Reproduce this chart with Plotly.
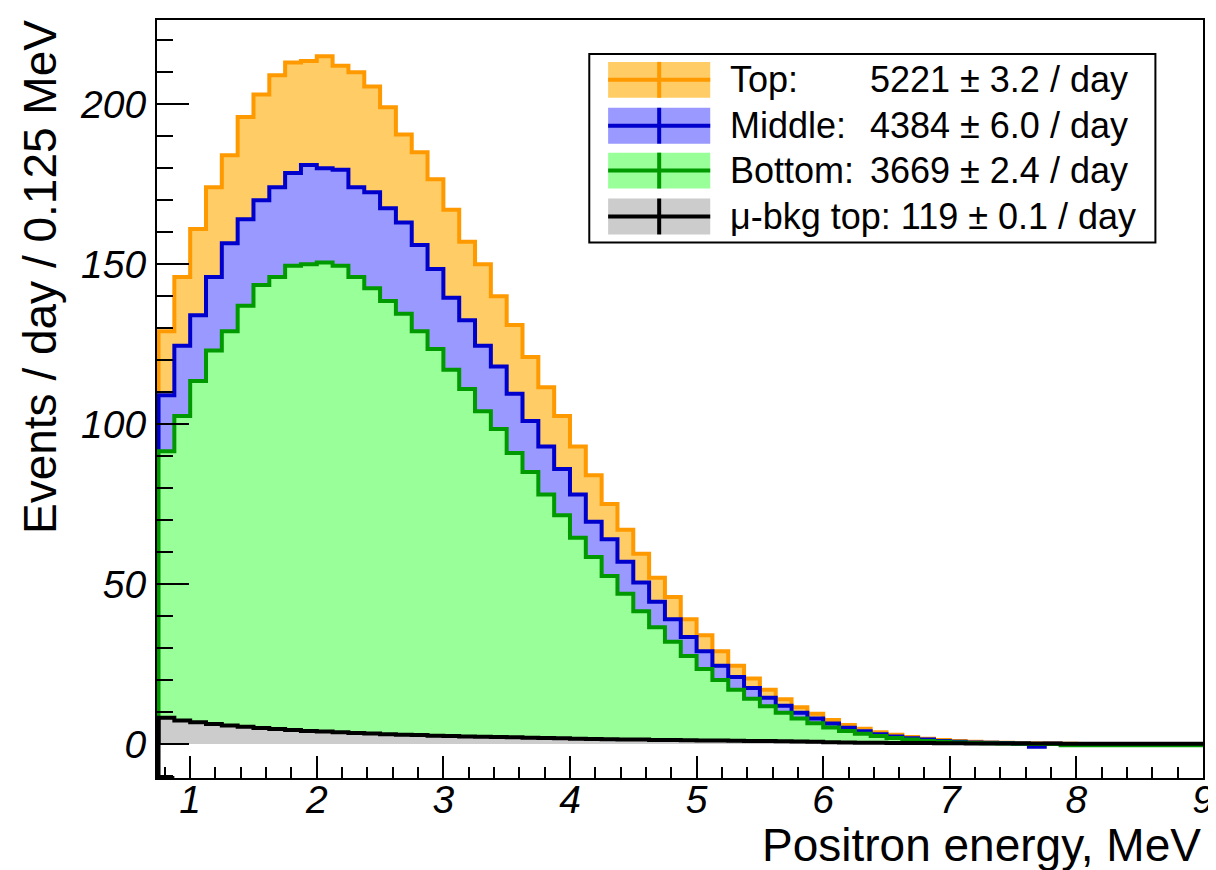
import numpy as np
import plotly.graph_objects as go

# ---------------- data (events / day / 0.125 MeV) ----------------
bin_lo = 0.75
bin_w = 0.125

top = [129, 146, 161, 174, 184, 196, 203, 209, 213, 213.5,
       215, 212, 210, 205.5, 199, 190.5, 185, 176.5, 167, 157,
       150, 140, 131, 121, 111.5, 102.5, 93, 84, 75, 67,
       59.5, 52, 46, 39, 34, 29, 24.5, 20.5, 17, 14,
       11.5, 9.5, 7.5, 6, 4.8, 3.7, 2.9, 2.2, 1.7, 1.3,
       1.0, 0.7, 0.5, 0.4, 0.3, 0.2, 0.15, 0.1, 0.05, 0.05,
       0.03, 0.02, 0.02, 0.01, 0.01, 0.01]

middle = [109, 124.5, 134, 146, 156.5, 164, 170, 174, 178.5, 181,
          180, 179.5, 174, 172.5, 167.5, 163, 156, 148.5, 139.5, 132.5,
          124.5, 118, 109.5, 101, 93, 86, 78, 69.5, 64, 57,
          50.5, 44.5, 39, 33.5, 29, 24.5, 21, 17.5, 14.5, 12,
          9.8, 8, 6.4, 5.1, 4.0, 3.1, 2.4, 1.8, 1.4, 1.0,
          0.7, 0.5, 0.4, 0.3, 0.2, -0.8, 0.1, 0.05, 0.05, 0.02,
          0.02, 0.01, 0.01, 0.01, 0.01, 0.01]

bottom = [91.5, 102.5, 113.5, 123, 129, 137, 143.5, 146, 149.5, 150,
          150.5, 149.5, 146, 142.5, 138.5, 134.5, 129, 123.5, 117, 111,
          104, 98.5, 91, 85, 78, 71.5, 64.5, 58.5, 52.5, 47,
          41.5, 36.5, 32, 27.5, 23.5, 20, 17, 14.2, 11.8, 9.8,
          8, 6.5, 5.2, 4.1, 3.2, 2.5, 1.9, 1.4, 1.0, 0.7,
          0.5, 0.35, 0.25, 0.15, 0.1, 0.05, 0.02, -0.4, -0.4, -0.4,
          -0.4, -0.4, -0.4, -0.4, -0.4, -0.4]

bkg = [8.2, 7.4, 6.8, 6.3, 5.8, 5.4, 5.0, 4.7, 4.4, 4.1,
       3.9, 3.7, 3.5, 3.3, 3.1, 2.9, 2.8, 2.6, 2.5, 2.4,
       2.3, 2.2, 2.1, 2.0, 1.9, 1.8, 1.7, 1.6, 1.5, 1.45,
       1.4, 1.3, 1.25, 1.2, 1.15, 1.1, 1.05, 1.0, 0.95, 0.9,
       0.8, 0.7, 0.6, 0.5, 0.45, 0.4, 0.35, 0.3, 0.3, 0.25,
       0.25, 0.2, 0.2, 0.2, 0.15, 0.15, 0.15, 0.1, 0.1, 0.1,
       0.1, 0.1, 0.1, 0.1, 0.1, 0.1]

series_names = ["Top:", "Middle:", "Bottom:", "\u03bc-bkg top: 119 \u00b1 0.1 / day"]
series_rates = ["5221 \u00b1 3.2 / day", "4384 \u00b1 6.0 / day", "3669 \u00b1 2.4 / day", ""]

x_title = "Positron energy, MeV"
y_title = "Events / day / 0.125 MeV"

x_range = [0.738, 9.0]
y_range = [-10.6, 226.3]

line_colors = ["#ff9900", "#0000cc", "#009900", "#000000"]
fill_colors = ["#ffcc66", "#9999ff", "#99ff99", "#cccccc"]

# ---------------- figure ----------------
W, H = 1216, 870
ML, MR, MT, MB = 149, 12, 10, 100
PW, PH = W - ML - MR, H - MT - MB


def px(x):
    return (x - ML) / PW


def py(y):
    return (H - MB - y) / PH


fig = go.Figure()

for vals, lc, fc in zip([top, middle, bottom, bkg], line_colors, fill_colors):
    n = len(vals)
    edges = bin_lo + bin_w * np.arange(n + 1)
    xs = [edges[0]] + list(edges)
    ys = [0] + list(vals) + [vals[-1]]
    fig.add_trace(go.Scatter(
        x=xs, y=ys, mode="lines", line=dict(color=lc, width=4, shape="hv"),
        fill="tozeroy", fillcolor=fc, hoverinfo="skip", showlegend=False))

# ROOT artefact: bkg contour of the first bin reaching down to the frame
fig.add_trace(go.Scatter(
    x=[bin_lo + bin_w, bin_lo, bin_lo], y=[y_range[0], y_range[0], bkg[0]],
    mode="lines", line=dict(color="black", width=4), hoverinfo="skip",
    showlegend=False))

tick_font = dict(family="Liberation Sans", size=39, color="black", style="italic")

fig.update_xaxes(
    range=x_range, showgrid=False, zeroline=False,
    showline=True, linecolor="black", linewidth=2, mirror=True,
    ticks="inside", ticklen=22, tickwidth=2, tickcolor="black",
    tick0=0, dtick=1, tickfont=tick_font, ticklabelstandoff=-14,
    minor=dict(ticks="inside", ticklen=11, tickwidth=2, tickcolor="black",
               dtick=0.2, tick0=0, showgrid=False),
)
fig.update_yaxes(
    range=y_range, showgrid=False, zeroline=False,
    showline=True, linecolor="black", linewidth=2, mirror=True,
    ticks="inside", ticklen=32, tickwidth=2, tickcolor="black",
    tick0=0, dtick=50, tickfont=tick_font, ticklabelstandoff=1,
    minor=dict(ticks="inside", ticklen=16, tickwidth=2, tickcolor="black",
               dtick=10, tick0=0, showgrid=False),
)

shapes = []
annotations = []

# legend box
shapes.append(dict(type="rect", xref="paper", yref="paper",
                   x0=px(585), x1=px(1156), y0=py(233), y1=py(44),
                   line=dict(color="black", width=2), fillcolor="white", layer="above"))

row_y = [70, 116, 161, 207]
sw_x0, sw_x1 = 604, 707
sw_h = 36
leg_font = dict(family="Liberation Sans", size=36, color="black")
for i, yc in enumerate(row_y):
    shapes.append(dict(type="rect", xref="paper", yref="paper",
                       x0=px(sw_x0), x1=px(sw_x1), y0=py(yc + sw_h / 2), y1=py(yc - sw_h / 2),
                       line=dict(width=0), fillcolor=fill_colors[i], layer="above"))
    shapes.append(dict(type="line", xref="paper", yref="paper",
                       x0=px(sw_x0), x1=px(sw_x1), y0=py(yc), y1=py(yc),
                       line=dict(color=line_colors[i], width=4), layer="above"))
    xm = (sw_x0 + sw_x1) / 2
    shapes.append(dict(type="line", xref="paper", yref="paper",
                       x0=px(xm), x1=px(xm), y0=py(yc + sw_h / 2), y1=py(yc - sw_h / 2),
                       line=dict(color=line_colors[i], width=4), layer="above"))
    annotations.append(dict(xref="paper", yref="paper", x=px(725), y=py(yc),
                            xanchor="left", yanchor="middle", text=series_names[i],
                            showarrow=False, font=leg_font))
    if series_rates[i]:
        annotations.append(dict(xref="paper", yref="paper", x=px(1130), y=py(yc),
                                xanchor="right", yanchor="middle", text=series_rates[i],
                                showarrow=False, font=leg_font))

title_font = dict(family="Liberation Sans", size=46, color="black")
annotations.append(dict(xref="paper", yref="paper", x=px(1204), y=py(837),
                        xanchor="right", yanchor="middle", text=x_title,
                        showarrow=False, font=title_font))
annotations.append(dict(xref="paper", yref="paper", x=px(31), y=py(8),
                        xanchor="center", yanchor="top", text=y_title, textangle=-90,
                        showarrow=False, font=title_font))

fig.update_layout(
    width=W, height=H,
    margin=dict(l=ML, r=MR, t=MT, b=MB, pad=0),
    paper_bgcolor="white", plot_bgcolor="white",
    shapes=shapes, annotations=annotations,
    showlegend=False,
)

fig.write_html("out.html")
